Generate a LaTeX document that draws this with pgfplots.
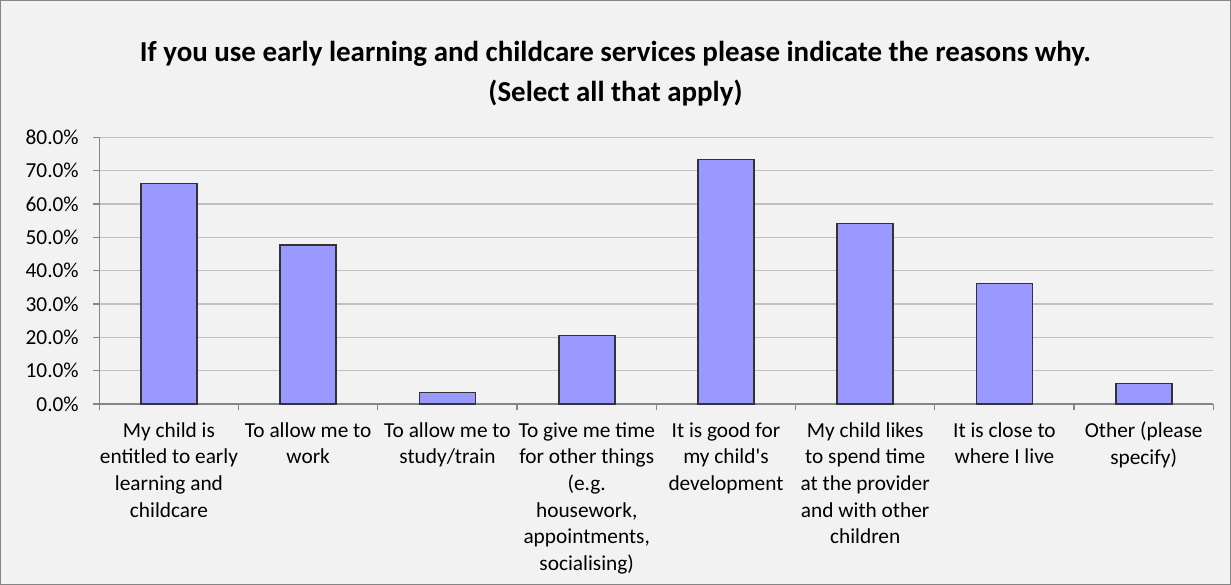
\documentclass[border=0pt]{standalone}
\usepackage{pgfplots}
\pgfplotsset{compat=1.18}
\usepackage{fontspec}
\setmainfont{Carlito}
\definecolor{barfill}{HTML}{9999FF}
\definecolor{baredge}{HTML}{333333}
\definecolor{bg}{HTML}{F2F2F2}
\definecolor{gridc}{HTML}{C0C0C0}
\definecolor{axisc}{HTML}{868686}
\begin{document}
\begin{tikzpicture}
\fill[bg] (0pt,0pt) rectangle (923.25pt,438.75pt);
\draw[axisc, line width=0.75pt] (0.4pt,0.4pt) rectangle (922.85pt,438.35pt);
\path[use as bounding box] (0pt,0pt) rectangle (923.25pt,438.75pt);
\node[font=\fontsize{21.7}{30}\selectfont\bfseries, align=center, inner sep=0pt] at (461.6pt,383.5pt)
  {If you use early learning and childcare services please indicate the reasons why.\\(Select all that apply)};
\begin{axis}[
  at={(74.5pt,135.75pt)}, anchor=south west,
  scale only axis, width=835.5pt, height=200pt,
  xmin=-0.5, xmax=7.5, ymin=0, ymax=80,
  axis x line=bottom, axis y line=left,
  axis line style={axisc, line width=1pt, -},
  ymajorgrids, grid style={gridc, line width=1pt},
  ytick={0,10,...,80},
  tick align=outside, major tick length=4.75pt,
  tick style={axisc, line width=0.9pt},
  yticklabel={\pgfmathprintnumber[fixed,fixed zerofill,precision=1]{\tick}\%},
  yticklabel style={font=\fontsize{16}{19.3}\selectfont, inner sep=0pt, anchor=east, xshift=-10.5pt},
  /pgf/number format/assume math mode=true,
  xtick={-0.5,0.5,...,7.5}, xticklabels={},
  extra x ticks={0,1,...,7},
  extra x tick labels={
    {My child is\\entitled to early\\learning and\\childcare},
    {To allow me to\\work},
    {To allow me to\\study/train},
    {To give me time\\for other things\\(e.g.\\housework,\\appointments,\\socialising)},
    {It is good for\\my child\textquotesingle s\\development},
    {My child likes\\to spend time\\at the provider\\and with other\\children},
    {It is close to\\where I live},
    {Other (please\\specify)}},
  extra x tick style={major tick length=0pt,
    xticklabel style={font=\fontsize{16}{20}\selectfont, align=center, anchor=north, inner sep=0pt, yshift=-13.5pt}},
  clip=false,
]
\addplot[ybar, bar width=42pt, fill=barfill, draw=baredge, line width=1.2pt] coordinates {
  (0,66.2) (1,47.7) (2,3.5) (3,20.5) (4,73.4) (5,54.1) (6,36.2) (7,6.2)
};
\end{axis}
\end{tikzpicture}
\end{document}
